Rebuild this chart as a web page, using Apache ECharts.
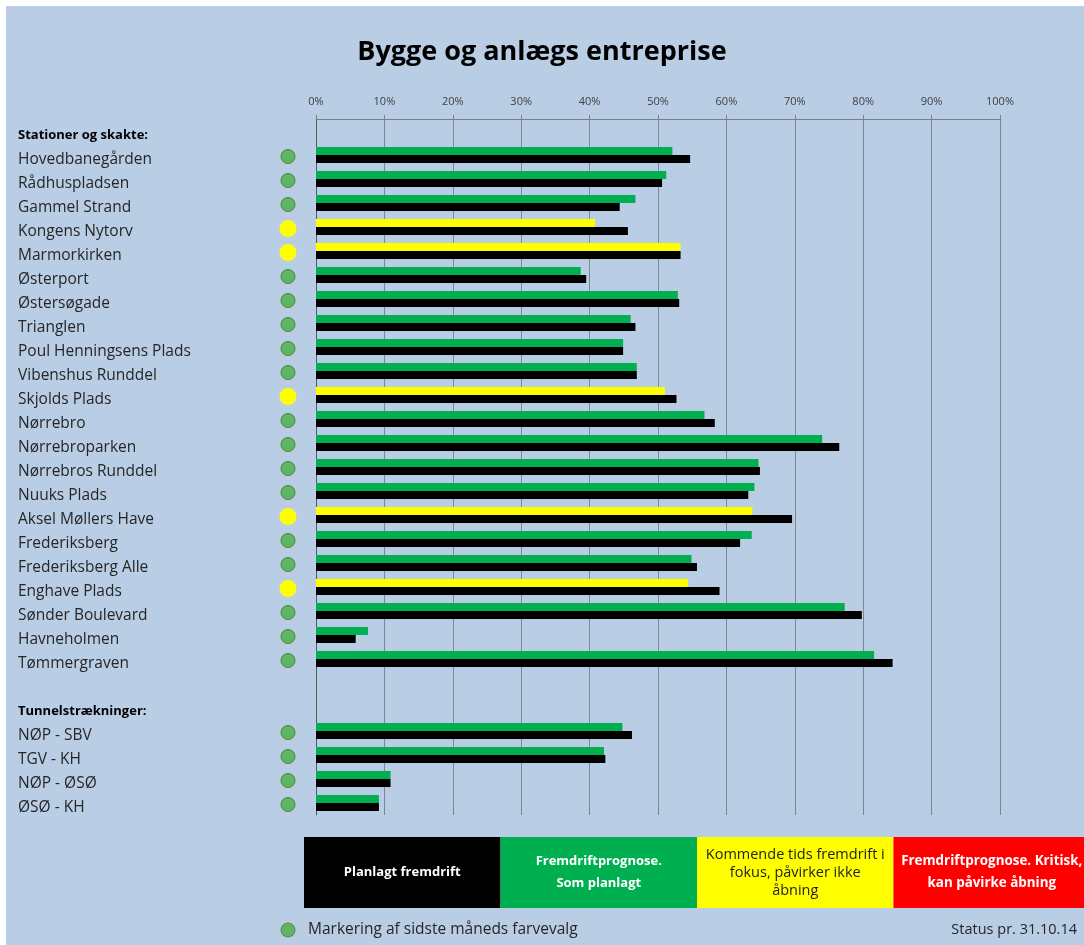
<!DOCTYPE html>
<html><head><meta charset="utf-8">
<script src="https://cdn.jsdelivr.net/npm/echarts@6/dist/echarts.min.js"></script>
<style>html,body{margin:0;padding:0;background:#fff}#c{width:1084px;height:945px}</style>
</head><body><div id="c"></div>
<script>
// ---- data ----
var categories = ["Stationer og skakte:","Hovedbanegården","Rådhuspladsen","Gammel Strand","Kongens Nytorv","Marmorkirken","Østerport","Østersøgade","Trianglen","Poul Henningsens Plads","Vibenshus Runddel","Skjolds Plads","Nørrebro","Nørrebroparken","Nørrebros Runddel","Nuuks Plads","Aksel Møllers Have","Frederiksberg","Frederiksberg Alle","Enghave Plads","Sønder Boulevard","Havneholmen","Tømmergraven"," ","Tunnelstrækninger:","NØP - SBV","TGV - KH","NØP - ØSØ","ØSØ - KH"];
var headers = ["Stationer og skakte:","Tunnelstrækninger:"];
var prognose = [null,52.1,51.2,46.7,40.8,53.3,38.7,52.9,46.0,44.9,46.9,51.0,56.8,74.0,64.7,64.1,63.8,63.7,54.9,54.4,77.3,7.6,81.6,null,null,44.8,42.1,10.9,9.2];
var planlagt = [null,54.7,50.6,44.4,45.6,53.3,39.5,53.1,46.7,44.9,46.9,52.7,58.3,76.5,64.9,63.2,69.6,62.0,55.7,59.0,79.8,5.8,84.3,null,null,46.2,42.3,10.9,9.2];
var statusList = [null,"G","G","G","Y","Y","G","G","G","G","G","Y","G","G","G","G","Y","G","G","Y","G","G","G",null,null,"G","G","G","G"];
var tickLabels = ["0%","10%","20%","30%","40%","50%","60%","70%","80%","90%","100%"];
var legendLabels = ["Planlagt fremdrift","Fremdriftprognose.\nSom planlagt","Kommende tids fremdrift i\nfokus, påvirker ikke\nåbning","Fremdriftprognose. Kritisk,\nkan påvirke åbning"];
var chartTitle = "Bygge og anlægs entreprise";
var footLeft = "Markering af sidste måneds farvevalg";
var footRight = "Status pr. 31.10.14";

// ---- styles ----
var FONT = "'Open Sans', sans-serif";
var statusColor = {G:"#00b050", Y:"#ffff00"};
var dotFill = {G:"#62b562", Y:"#ffff00"};
var dotBorder = {G:"#4a854a", Y:"#ffff00"};
var legendFill = ["#000000","#00b050","#ffff00","#ff0000"];
var legendText = ["#ffffff","#ffffff","#222222","#ffffff"];
var legendFont = ["bold 13px ","bold 13px ","14.5px ","bold 13.4px "];
var legendLH = [20,22,18,22];

var chart = echarts.init(document.getElementById('c'), null, {renderer:'canvas'});

var progData = prognose.map(function(v,i){
  if(v===null) return null;
  return {value:v, itemStyle:{color:statusColor[statusList[i]]}};
});
var dotData = [];
statusList.forEach(function(s,i){
  if(!s) return;
  dotData.push({value:[0.5,i], symbolSize: s==='Y'?17:14,
    itemStyle:{color:dotFill[s], borderColor:dotBorder[s], borderWidth: s==='Y'?0:1, opacity:1}});
});

var graphics = [
  {type:'rect', shape:{x:0,y:0,width:1084,height:6}, style:{fill:'#ffffff'}, z:100},
  {type:'rect', shape:{x:0,y:0,width:6,height:945}, style:{fill:'#ffffff'}, z:100}
];
var bx = 304, bw = 196.5, by = 837, bh = 71;
legendLabels.forEach(function(t,i){
  graphics.push({type:'rect', shape:{x:bx+i*bw, y:by, width:bw, height:bh}, style:{fill:legendFill[i]}});
  graphics.push({type:'text', x:bx+i*bw+bw/2, y:by+bh/2, style:{text:t, fill:legendText[i], font: legendFont[i]+FONT, textAlign:'center', textVerticalAlign:'middle', lineHeight:legendLH[i]}});
});
graphics.push({type:'circle', shape:{cx:288, cy:930, r:7}, style:{fill:dotFill.G, stroke:dotBorder.G, lineWidth:1}});
graphics.push({type:'text', x:308, y:930, style:{text:footLeft, fill:'#262626', font:'15.5px '+FONT, textVerticalAlign:'middle'}});
graphics.push({type:'text', x:1077, y:930, style:{text:footRight, fill:'#262626', font:'14.5px '+FONT, textAlign:'right', textVerticalAlign:'middle'}});

chart.setOption({
  backgroundColor:'#b9cde5',
  animation:false,
  title:{text:chartTitle, left:'center', top:34, textStyle:{fontFamily:FONT, fontWeight:'bold', fontSize:27, color:'#000'}},
  grid:[
    {left:316, top:119, width:684, height:696},
    {left:280, top:119, width:16, height:696}
  ],
  xAxis:[
    {gridIndex:0, type:'value', position:'top', min:0, max:100, interval:10,
     axisLine:{show:true, lineStyle:{color:'#7f7f7f'}},
     axisTick:{show:true, length:4, lineStyle:{color:'#7f7f7f'}},
     splitLine:{show:true, lineStyle:{color:'#80868f', width:1}},
     axisLabel:{margin:12, fontFamily:FONT, fontSize:11, color:'#404040',
       formatter:function(v){return tickLabels[Math.round(v/10)];}}},
    {gridIndex:1, type:'value', min:0, max:1, show:false}
  ],
  yAxis:[
    {gridIndex:0, type:'category', inverse:true, data:categories,
     axisLine:{show:true, lineStyle:{color:'#595959'}}, axisTick:{show:false},
     axisLabel:{align:'left', margin:298, interval:0, padding:[9,0,0,0],
       formatter:function(v){ return headers.indexOf(v)>=0 ? '{h|'+v+'}' : '{n|'+v+'}'; },
       rich:{h:{fontFamily:FONT, fontSize:13, fontWeight:'bold', color:'#000'},
             n:{fontFamily:FONT, fontSize:15.5, color:'#262626'}}}},
    {gridIndex:1, type:'category', inverse:true, data:categories, show:false}
  ],
  series:[
    {type:'bar', xAxisIndex:0, yAxisIndex:0, data:progData, barWidth:8, barGap:'0%'},
    {type:'bar', xAxisIndex:0, yAxisIndex:0, data:planlagt, barWidth:8, barGap:'0%', itemStyle:{color:'#000'}},
    {type:'scatter', xAxisIndex:1, yAxisIndex:1, data:dotData, symbolOffset:[0,1.5], z:5}
  ],
  graphic:graphics
});
</script></body></html>
